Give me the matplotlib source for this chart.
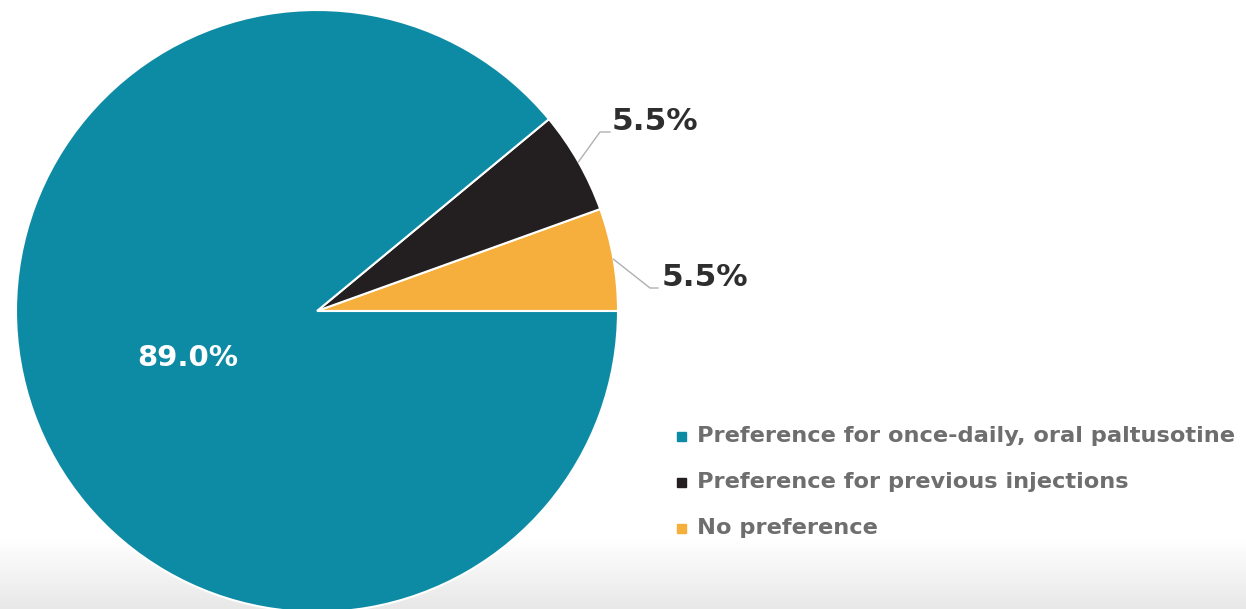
import numpy as np
import matplotlib.pyplot as plt
from matplotlib.colors import LinearSegmentedColormap

# parts of the pie, counter-clockwise from 3 o'clock
labels = ["No preference", "Preference for previous injections",
          "Preference for once-daily, oral paltusotine"]
shares = [5.5, 5.5, 89.0]
colors = ["#F6AE3D", "#231F20", "#0E8BA4"]

# legend rows, top to bottom
legend_order = [2, 1, 0]

W, H = 1246, 609
fig = plt.figure(figsize=(W / 100, H / 100), dpi=100)
ax = fig.add_axes([0, 0, 1, 1])

# soft grey fade along the bottom edge
grad = np.ones((H, 1))
y = np.arange(H)
grad[:, 0] = np.clip((70 - y) / 70.0, 0, 1)
cmap = LinearSegmentedColormap.from_list("fade", ["#ffffff", "#e8e8e8"])
ax.imshow(grad, extent=(0, W, 0, H), origin="lower", cmap=cmap,
          vmin=0, vmax=1, aspect="auto", zorder=0)

cx, cy, R = 317, 298, 301
wedges, _ = ax.pie(shares, colors=colors, startangle=0, counterclock=True,
                   center=(cx, cy), radius=R, frame=True,
                   wedgeprops=dict(edgecolor="white", linewidth=1.5))
for w in wedges:
    w.set_zorder(2)
ax.set_xlim(0, W)
ax.set_ylim(0, H)
ax.set_aspect("auto")
ax.axis("off")

# outside labels with leader lines for the two small slices
label_spots = {0: ((650, 321), (658, 321), (662, 331)),
               1: ((600, 477), (610, 477), (612, 487))}
for i, (elbow, end, txt) in label_spots.items():
    w = wedges[i]
    mid = np.deg2rad((w.theta1 + w.theta2) / 2)
    sx, sy = cx + R * np.cos(mid), cy + R * np.sin(mid)
    ax.plot([sx, elbow[0], end[0]], [sy, elbow[1], end[1]],
            color="#b0b0b0", lw=1, zorder=3)
    ax.text(txt[0], txt[1], f"{shares[i]:.1f}%", fontsize=22.5,
            fontweight="bold", color="#2e2e2e", ha="left", va="center",
            zorder=4)

# big slice label inside
ax.text(188, 251, f"{shares[2]:.1f}%", fontsize=21, fontweight="bold",
        color="white", ha="center", va="center", zorder=4)

# legend
for row, i in enumerate(legend_order):
    yy = 173 - row * 46
    ax.add_patch(plt.Rectangle((677, yy - 4.5), 9, 9, color=colors[i], zorder=4))
    ax.text(697, yy, labels[i], fontsize=16.2, fontweight="bold",
            color="#6e6e6e", ha="left", va="center", zorder=4)

fig.savefig("out.png", dpi=100)
